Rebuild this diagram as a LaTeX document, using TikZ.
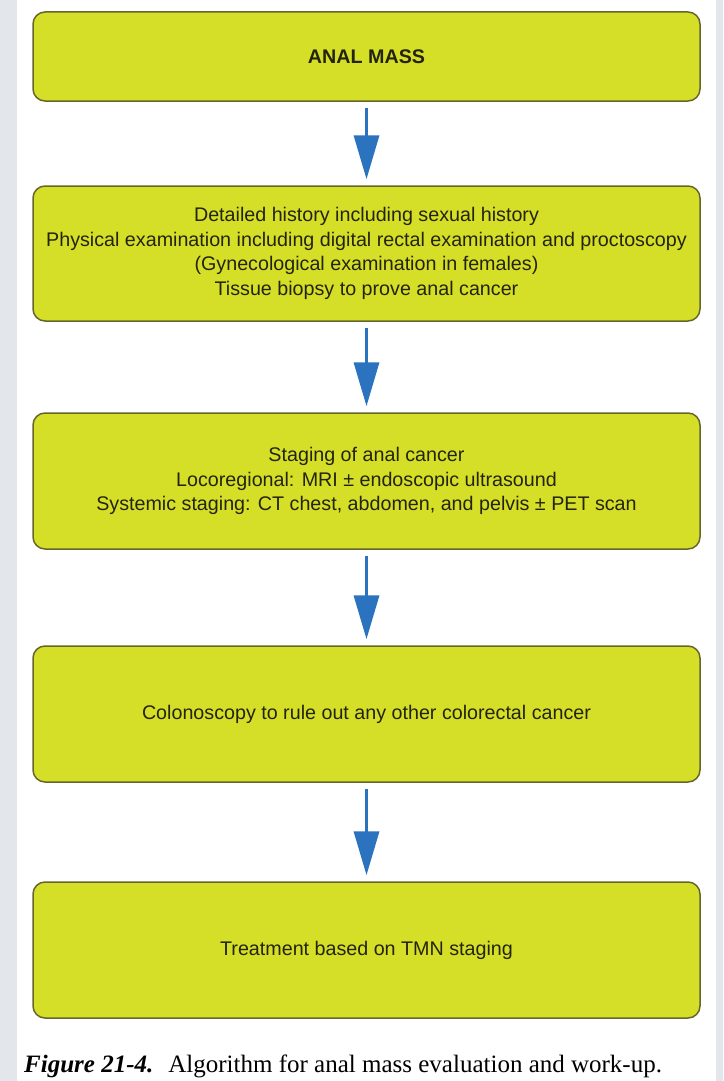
\documentclass[tikz,border=0pt]{standalone}
\usepackage{fontspec}
\setmainfont{Liberation Sans}
\newfontfamily\capfont{Liberation Serif}
\usetikzlibrary{arrows.meta}
\definecolor{boxfill}{HTML}{D6DF28}
\definecolor{boxline}{HTML}{66662C}
\definecolor{arrowblue}{HTML}{2B73BE}
\definecolor{sidegray}{HTML}{E3E6EA}
\definecolor{txt}{HTML}{24240E}
\tikzset{
  flowbox/.style={draw=boxline, line width=1.5pt, fill=boxfill, rounded corners=12pt,
    minimum width=667pt, inner sep=0pt, align=center, text=txt,
    font=\fontsize{19.7pt}{24.7pt}\selectfont},
  flowarrow/.style={draw=arrowblue, line width=3.5pt,
    -{Triangle[width=25pt,length=44pt,fill=arrowblue]}, shorten <=6pt, shorten >=6pt}
}
\begin{document}
\begin{tikzpicture}[x=1pt,y=-1pt]
\useasboundingbox (0,0) rectangle (723,1081);
\fill[sidegray] (0,0) rectangle (723,1081);
\fill[white] (17,0) rectangle (716,1081);
\node[flowbox, minimum height=89pt, font=\fontsize{19.7pt}{24.7pt}\selectfont\bfseries] (b1) at (366.5,56.5) {ANAL MASS};
\node[flowbox, minimum height=135pt] (b2) at (366.5,253.5) {Detailed history including sexual history\\Physical examination including digital rectal examination and proctoscopy\\(Gynecological examination in females)\\Tissue biopsy to prove anal cancer};
\node[flowbox, minimum height=136pt] (b3) at (366.5,481) {Staging of anal cancer\\Locoregional: MRI ± endoscopic ultrasound\\Systemic staging: CT chest, abdomen, and pelvis ± PET scan};
\node[flowbox, minimum height=136pt] (b4) at (366.5,714) {Colonoscopy to rule out any other colorectal cancer};
\node[flowbox, minimum height=136pt] (b5) at (366.5,950) {Treatment based on TMN staging};
\draw[flowarrow] (b1.south) -- (b2.north);
\draw[flowarrow] (b2.south) -- (b3.north);
\draw[flowarrow] (b3.south) -- (b4.north);
\draw[flowarrow] (b4.south) -- (b5.north);
\node[anchor=base west, inner sep=0pt, text=black, font=\capfont\fontsize{25pt}{29pt}\selectfont] (cap) at (24,1072) {\textbf{\textit{Figure 21-4.}}\hspace{0.6em}Algorithm for anal mass evaluation and work-up.};
\end{tikzpicture}
\end{document}
